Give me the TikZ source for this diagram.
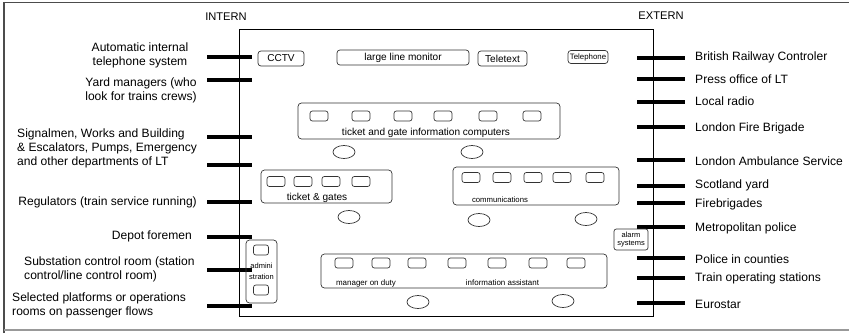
\documentclass[tikz,border=0pt]{standalone}
\usepackage{fontspec}
\setmainfont{Liberation Sans}
\usetikzlibrary{positioning, shapes.geometric}

\begin{document}
\begin{tikzpicture}[
    x=0.03cm, y=-0.03cm,
    side/.style={inner sep=0pt, font=\fontsize{10.3}{12}\selectfont},
    head/.style={inner sep=0pt, font=\fontsize{9.5}{11}\selectfont},
    group/.style={draw=black!80, line width=0.6pt, rounded corners=3pt, inner sep=0pt},
    device/.style={draw=black!80, line width=0.6pt, rounded corners=2.5pt, inner sep=0pt, minimum height=0.45cm, font=\fontsize{8.6}{10}\selectfont},
    screen/.style={draw=black!80, line width=0.6pt, rounded corners=2pt, inner sep=0pt, minimum width=0.54cm, minimum height=0.3cm},
    seat/.style={ellipse, draw=black!80, line width=0.6pt, inner sep=0pt, minimum width=0.66cm, minimum height=0.39cm},
    caption/.style={inner sep=0pt, font=\fontsize{8.6}{10}\selectfont},
    tiny/.style={inner sep=0pt, font=\fontsize{6.6}{7.6}\selectfont, align=center},
    tick/.style={line width=3.2pt}
]
    \clip (0,0) rectangle (849,333);
    % outer frame
    \draw[black!70, line width=1.6pt] (4,333) -- (4,2.5) -- (849,2.5);
    \draw[black!40, line width=1.2pt] (4,330) -- (849,330);

    % control room
    \draw[line width=0.7pt] (239,29) rectangle (653,316);
    \node[head] (intern) at (226,17) {INTERN};
    \node[head] (extern) at (661,16) {EXTERN};

    % lines to the inside
    \foreach \y in {57,80,137,165,202,237,270,306}
        \draw[tick] (207,\y) -- (252,\y);
    % lines to the outside
    \foreach \y in {58,79,102,127,160,186,203,227,258,278,303}
        \draw[tick] (637,\y) -- (685,\y);

    \node[side, align=center] (autotel) at (140,55) {Automatic internal\\telephone system};
    \node[side, align=center] (yard) at (141,90) {Yard managers (who\\look for trains crews)};
    \node[side, align=left, anchor=west] (signal) at (17,148) {Signalmen, Works and Building\\\& Escalators, Pumps, Emergency\\and other departments of LT};
    \node[side, anchor=east] (regul) at (197,202) {Regulators (train service running)};
    \node[side, anchor=east] (depot) at (192,236) {Depot foremen};
    \node[side, align=left, anchor=west] (subst) at (24,269) {Substation control room (station\\control/line control room)};
    \node[side, align=left, anchor=west] (platf) at (12,305) {Selected platforms or operations\\rooms on passenger flows};

    \node[side, anchor=west] (brc) at (695,57) {British Railway Controler};
    \node[side, anchor=west] (press) at (695,79) {Press office of LT};
    \node[side, anchor=west] (radio) at (695,101) {Local radio};
    \node[side, anchor=west] (fire) at (695,128) {London Fire Brigade};
    \node[side, anchor=west] (ambul) at (695,161) {London Ambulance Service};
    \node[side, anchor=west] (yardsc) at (695,185) {Scotland yard};
    \node[side, anchor=west] (fireb) at (695,204) {Firebrigades};
    \node[side, anchor=west] (metro) at (695,228) {Metropolitan police};
    \node[side, anchor=west] (county) at (695,259) {Police in counties};
    \node[side, anchor=west] (trains) at (695,278) {Train operating stations};
    \node[side, anchor=west] (euro) at (695,304) {Eurostar};

    % top row
    \node[device, minimum width=1.38cm] (cctv) at (281,58.5) {CCTV};
    \node[device, minimum width=3.96cm] (monitor) at (403,57.5) {large line monitor};
    \node[device, minimum width=1.47cm] (teletext) at (502.5,58.5) {Teletext};
    \node[device, minimum width=1.2cm, minimum height=0.39cm, font=\fontsize{6.7}{8}\selectfont] (phone) at (588,57) {Telephone};

    % ticket and gate information computers
    \node[group, minimum width=7.86cm, minimum height=1.08cm] (tgic) at (429,121) {};
    \foreach \x [count=\i] in {319,361,403,443,488,532}
        \node[screen] (tgic\i) at (\x,116) {};
    \node[caption] (tgiclab) at (426,133) {ticket and gate information computers};
    \node[seat] (tgicsa) at (344,152) {};
    \node[seat] (tgicsb) at (472,152) {};

    % ticket & gates
    \node[group, minimum width=3.93cm, minimum height=0.99cm] (gates) at (326.5,186.5) {};
    \foreach \x [count=\i] in {276,303,331,361}
        \node[screen] (gates\i) at (\x,181.5) {};
    \node[caption] (gateslab) at (317,198) {ticket \& gates};
    \node[seat] (gatess) at (349,217) {};

    % communications
    \node[group, minimum width=4.98cm, minimum height=1.14cm] (comm) at (536,186) {};
    \foreach \x [count=\i] in {471,502,533,562,595}
        \node[screen] (comm\i) at (\x,177.5) {};
    \node[inner sep=0pt, font=\fontsize{6.6}{8}\selectfont] (commlab) at (500,200) {communications};
    \node[seat] (commsa) at (479,220) {};
    \node[seat] (commsb) at (586,219) {};

    % alarm systems
    \node[group, rounded corners=2pt, minimum width=1.02cm, minimum height=0.63cm, font=\fontsize{6.4}{7.4}\selectfont, align=center] (alarm) at (631,239.5) {alarm\\systems};

    % administration
    \node[group, minimum width=0.93cm, minimum height=1.89cm] (admin) at (261.5,271.5) {};
    \node[screen, minimum width=0.45cm] (admin1) at (261,250) {};
    \node[screen, minimum width=0.45cm] (admin2) at (261,290) {};
    \node[tiny, font=\fontsize{6.4}{9.2}\selectfont] (adminlab) at (261.5,271.5) {admini\\stration};

    % manager on duty and information assistant
    \node[group, minimum width=8.58cm, minimum height=1.02cm] (staff) at (464,271) {};
    \foreach \x [count=\i] in {344,381,417,457,497,538,576}
        \node[screen] (staff\i) at (\x,263) {};
    \node[inner sep=0pt, font=\fontsize{6.8}{8}\selectfont] (mgrlab) at (366,283) {manager on duty};
    \node[inner sep=0pt, font=\fontsize{6.8}{8}\selectfont] (infolab) at (502.5,283) {information assistant};
    \node[seat] (staffsa) at (418,302) {};
    \node[seat] (staffsb) at (563,301) {};
\end{tikzpicture}
\end{document}
